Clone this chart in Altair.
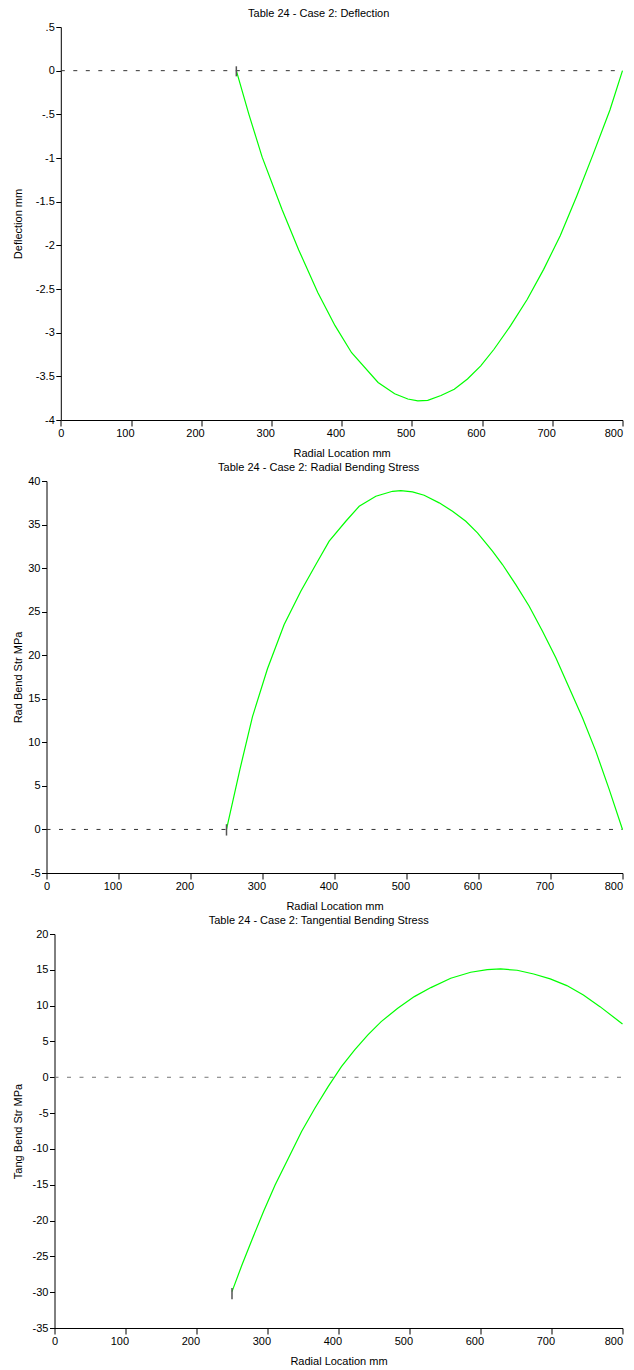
import altair as alt
import pandas as pd

FONT = "Liberation Sans"

# ---------------- data ----------------
x_ticks = [0, 100, 200, 300, 400, 500, 600, 700, 800]

# Panel 1: Deflection (mm)
defl_r = [250, 267.9, 286.8, 315.1, 338.7, 366.0, 390.6, 414.2, 451.9, 475.5,
          494.3, 508.5, 522.6, 541.5, 560.4, 579.2, 598.1, 617.0, 640.6, 664.2,
          687.7, 711.3, 734.9, 758.5, 782.1, 800]
defl_v = [0, -0.50, -0.99, -1.59, -2.05, -2.54, -2.92, -3.23, -3.57, -3.70,
          -3.76, -3.78, -3.776, -3.72, -3.647, -3.53, -3.38, -3.19, -2.92, -2.62,
          -2.275, -1.89, -1.434, -0.95, -0.45, 0]
defl_ticks = [-4, -3.5, -3, -2.5, -2, -1.5, -1, -0.5, 0, 0.5]
defl_edge = [0.05, -0.065]

# Panel 2: Radial bending stress (MPa)
rad_r = [250, 268.5, 286.1, 306.9, 330.1, 353.2, 374.1, 392.6, 415.7, 434.3,
         457.4, 480.6, 492.1, 508.3, 524.5, 545.4, 563.9, 582.4, 598.6, 619.4,
         633.3, 651.8, 670.4, 688.9, 707.4, 725.9, 744.4, 762.9, 781.5, 800]
rad_v = [0, 6.85, 12.95, 18.45, 23.52, 27.35, 30.41, 33.09, 35.38, 37.10,
         38.25, 38.82, 38.90, 38.75, 38.36, 37.49, 36.53, 35.38, 34.04, 31.94,
         30.41, 28.11, 25.63, 22.76, 19.70, 16.26, 12.81, 8.99, 4.6, 0]
rad_ticks = [-5, 0, 5, 10, 15, 20, 25, 30, 35, 40]
rad_edge = [0.6, -0.7]

# Panel 3: Tangential bending stress (MPa)
tang_r = [250, 264.0, 278.0, 294.4, 310.7, 329.4, 348.0, 366.7, 385.4, 404.1,
          422.8, 441.4, 460.1, 483.4, 506.8, 530.1, 558.1, 586.2, 609.5, 628.2,
          651.5, 674.9, 698.2, 721.6, 744.9, 768.3, 800]
tang_v = [-29.92, -26.20, -22.71, -18.75, -15.03, -11.31, -7.58, -4.33, -1.30, 1.49,
          3.82, 5.91, 7.77, 9.63, 11.26, 12.52, 13.82, 14.66, 15.03, 15.12,
          14.94, 14.42, 13.73, 12.80, 11.49, 9.86, 7.44]
tang_ticks = [-35, -30, -25, -20, -15, -10, -5, 0, 5, 10, 15, 20]
tang_edge = [-29.4, -31.0]

edge_r = 250

titles = ["Table 24 - Case 2: Deflection",
          "Table 24 - Case 2: Radial Bending Stress",
          "Table 24 - Case 2: Tangential Bending Stress"]
y_titles = ["Deflection mm", "Rad Bend Str MPa", "Tang Bend Str MPa"]
x_title = "Radial Location mm"

VIEW_LEFT = 45.0     # page x of the common view origin
VIEW_W = 576.0       # common view width
TITLE_CX = 17.0      # page x of the y-axis title centre


def panel(title, ytitle, r, v, ydom, yticks, edge, height, axis_x, zcol):
    shift = axis_x - VIEW_LEFT
    curve = pd.DataFrame({"r": r, "v": v})
    zero = pd.DataFrame({"r": [0, 800], "v": [0, 0]})
    mark = pd.DataFrame({"r": [edge_r], "v": [edge[0]], "v2": [edge[1]]})

    xenc = alt.X("r:Q",
                 scale=alt.Scale(domain=[0, 800], nice=False, zero=False,
                                 range=[shift, VIEW_W]),
                 axis=alt.Axis(values=x_ticks, tickCount=len(x_ticks) + 2,
                               title=x_title, grid=False,
                               tickSize=6, labelPadding=1.5, titlePadding=9,
                               format="d", labelAlign="right",
                               labelOffset={"condition": {"test": "datum.value >= 800",
                                                          "value": 0},
                                            "value": 3},
                               labelOverlap=False, labelFlush=False))
    yenc = alt.Y("v:Q",
                 scale=alt.Scale(domain=ydom, nice=False, zero=False),
                 axis=alt.Axis(values=yticks, tickCount=len(yticks) + 2,
                               title=ytitle, grid=False,
                               tickSize=5, labelPadding=1.5,
                               offset=-shift, labelOverlap=False,
                               labelFlush=False,
                               labelExpr="replace('' + datum.value, '0.', '.')",
                               titleX=TITLE_CX - axis_x, titleY=height / 2,
                               titleBaseline="middle", titleAngle=270,
                               titleAlign="center"))

    zl = alt.Chart(zero).mark_line(color=zcol, strokeWidth=1,
                                   strokeDash=[4, 8.5]).encode(x=xenc, y=yenc)
    cl = alt.Chart(curve).mark_line(color="#00ff00", strokeWidth=1.2).encode(
        x="r:Q", y="v:Q")
    el = alt.Chart(mark).mark_rule(color="#555555", strokeWidth=1.5).encode(
        x="r:Q", y="v:Q", y2="v2:Q")

    return alt.layer(zl, cl, el).properties(
        width=VIEW_W, height=height,
        title=alt.TitleParams(title, fontSize=11, font=FONT, fontWeight="normal",
                              anchor="middle", frame="bounds", offset=2,
                              color="black"))


p1 = panel(titles[0], y_titles[0], defl_r, defl_v, [-4, 0.5], defl_ticks,
           defl_edge, 393, 59.3, "#333333")
p2 = panel(titles[1], y_titles[1], rad_r, rad_v, [-5, 40], rad_ticks,
           rad_edge, 392, 45.0, "#333333")
p3 = panel(titles[2], y_titles[2], tang_r, tang_v, [-35, 20], tang_ticks,
           tang_edge, 394, 53.0, "#777777")

chart = alt.vconcat(p1, p2, p3, spacing=3).properties(
    padding={"left": 3.5, "top": 0, "right": 0, "bottom": 0}
).configure_axis(
    labelFont=FONT, titleFont=FONT, labelFontSize=11, titleFontSize=11,
    titleFontWeight="normal", labelColor="black", titleColor="black",
    domainColor="black", tickColor="black", domainWidth=1, tickWidth=1
).configure_view(stroke=None)

chart.save("out.html", embed_options={"renderer": "svg", "actions": False})
